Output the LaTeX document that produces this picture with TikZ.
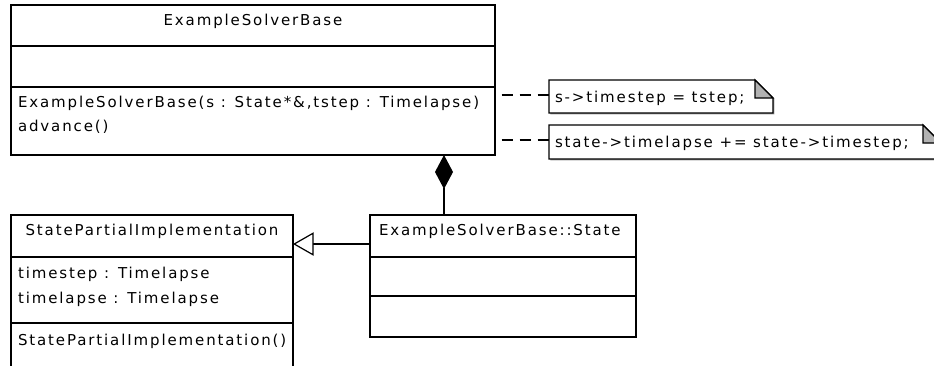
\documentclass[tikz,border=0pt]{standalone}
\usepackage{fontspec}
\newfontfamily\umlfont[LetterSpace=12.5]{DejaVu Sans}
\usetikzlibrary{arrows.meta,shadows}
\begin{document}
\begin{tikzpicture}[x=0.75pt,y=-0.75pt,
  font=\umlfont\fontsize{11.25pt}{13.5pt}\selectfont,
  every node/.style={inner sep=0pt, outer sep=0pt},
  lw/.style={line width=0.9pt},
  box/.style={lw, draw, fill=white, rectangle, anchor=north west,
    drop shadow={shadow xshift=1.1pt, shadow yshift=-1.1pt, fill=black!40, opacity=1}},
  notebox/.style={rectangle, anchor=north west},
  fold/.style={lw, fill=black!30},
  txt/.style={anchor=base west},
  ttl/.style={anchor=base},
  dep/.style={lw, dash pattern=on 8.25pt off 5.25pt, dash phase=-5pt},
  comp/.style={lw, -{Diamond[length=25.5pt,width=13.5pt,fill=black]}},
  gen/.style={lw, -{Triangle[open,length=15.5pt,width=17.5pt,fill=white]}}
]
\useasboundingbox (0,0) rectangle (934,365);
\fill[white] (0,0) rectangle (934,365);
\clip (0,0) rectangle (934,365);

% ExampleSolverBase
\node[box, minimum width=363pt, minimum height=112.5pt] (sb) at (11,5) {};
\draw[lw] (11,46) -- (495,46);
\draw[lw] (11,87) -- (495,87);
\node[ttl] (sbt) at (253,25) {ExampleSolverBase};
\node[txt] (sbm1) at (18,107) {ExampleSolverBase(s : State*\&,tstep : Timelapse)};
\node[txt] (sbm2) at (18,131) {advance()};

% StatePartialImplementation
\node[box, minimum width=211.5pt, minimum height=138pt] (sp) at (11,215) {};
\draw[lw] (11,257) -- (293,257);
\draw[lw] (11,323) -- (293,323);
\node[ttl] (spt) at (152,235) {StatePartialImplementation};
\node[txt] (spa1) at (18,278) {timestep : Timelapse};
\node[txt] (spa2) at (18,303) {timelapse : Timelapse};
\node[txt] (spm1) at (18,345) {StatePartialImplementation()};

% ExampleSolverBase::State
\node[box, minimum width=199.5pt, minimum height=91.5pt] (st) at (370,215) {};
\draw[lw] (370,257) -- (636,257);
\draw[lw] (370,296) -- (636,296);
\node[txt] (stt) at (379,235) {ExampleSolverBase::State};

% Notes
\node[notebox, minimum width=168pt, minimum height=24.75pt] (n1) at (549,80) {};
\node[notebox, minimum width=294pt, minimum height=25.5pt] (n2) at (549,125) {};
\foreach \n in {n1,n2}{
  \fill[black!40] ([shift={(1.1pt,-1.1pt)}]\n.north west) -- ([shift={(-12.4pt,-1.1pt)}]\n.north east)
     -- ([shift={(1.1pt,-14.6pt)}]\n.north east) -- ([shift={(1.1pt,-1.1pt)}]\n.south east)
     -- ([shift={(1.1pt,-1.1pt)}]\n.south west) -- cycle;
  \draw[lw, fill=white] (\n.north west) -- ([xshift=-13.5pt]\n.north east)
     -- ([yshift=-13.5pt]\n.north east) -- (\n.south east) -- (\n.south west) -- cycle;
  \draw[fold] ([xshift=-13.5pt]\n.north east) -- ([xshift=-13.5pt,yshift=-13.5pt]\n.north east)
     -- ([yshift=-13.5pt]\n.north east) -- cycle;
}
\node[txt] (n1t) at (555,102) {s->timestep = tstep;};
\node[txt] (n2t) at (555,147) {state->timelapse += state->timestep;};

% Note attachments
\coordinate (a1) at (495,95);
\coordinate (a2) at (495,140);
\draw[dep] (a1) -- (a1 -| n1.west);
\draw[dep] (a2) -- (a2 -| n2.west);

% Composition
\coordinate (c1) at (444,215);
\coordinate (c2) at (444,155);
\draw[comp] (c1) -- (c2);

% Generalization
\coordinate (g1) at (370,244);
\coordinate (g2) at (293,244);
\draw[gen] (g1) -- (g2);
\end{tikzpicture}
\end{document}
